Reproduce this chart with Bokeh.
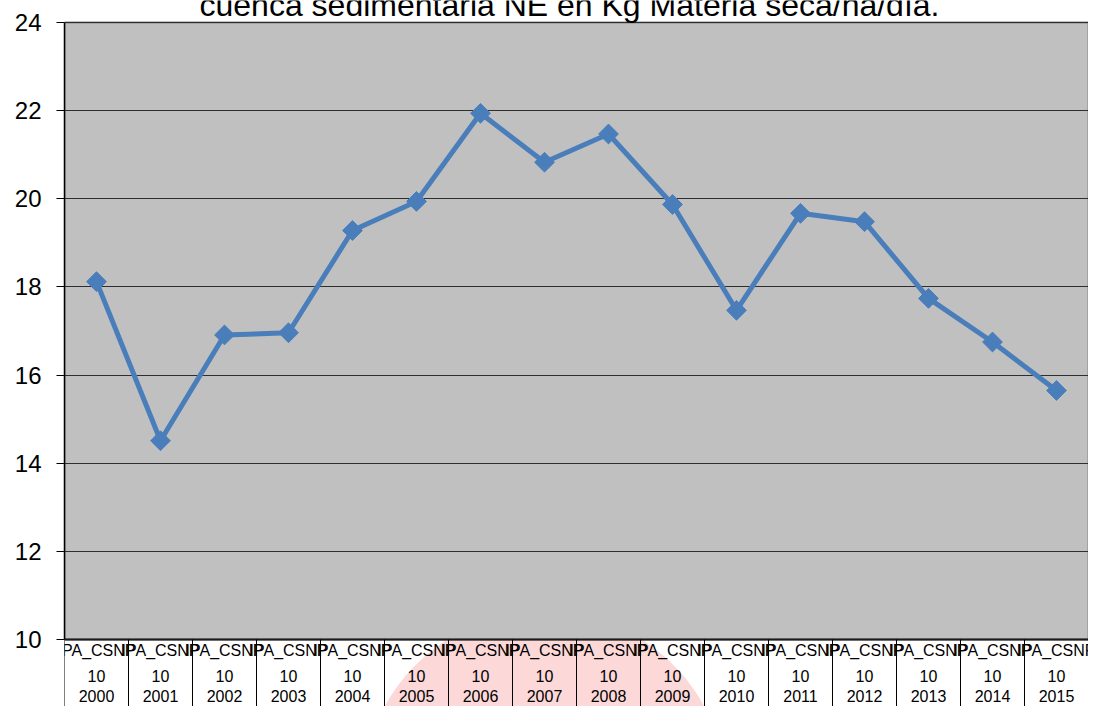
import numpy as np
from bokeh.plotting import figure
from bokeh.models import Range1d, FixedTicker, ColumnDataSource
from bokeh.core.properties import value
from bokeh.embed import file_html
from bokeh.resources import INLINE

# ---- data ----
series_codes = ["IPA_CSNP"] * 16
series_nums = ["10"] * 16
years = ["2000", "2001", "2002", "2003", "2004", "2005", "2006", "2007",
         "2008", "2009", "2010", "2011", "2012", "2013", "2014", "2015"]
values = [18.12, 14.51, 16.91, 16.96, 19.28, 19.94, 21.94, 20.83,
          21.47, 19.87, 17.47, 19.67, 19.48, 17.74, 16.75, 15.65]
y_ticks = [10, 12, 14, 16, 18, 20, 22, 24]
title_text = "cuenca sedimentaria NE en Kg Materia seca/ha/día."

FONT = "Liberation Sans"
BLUE = "#4a7ebb"

# ---- layout (pixels) ----
W, H = 1088, 706
LEFT = 64
PLOT_TOP, PLOT_BOTTOM = 22, 639
Y0, Y1 = y_ticks[0], y_ticks[-1]
ppu = (PLOT_BOTTOM - PLOT_TOP) / (Y1 - Y0)
y_start = Y0 - (H - PLOT_BOTTOM) / ppu
y_end = Y1 + PLOT_TOP / ppu


def y_at(px):
    return Y0 - (px - PLOT_BOTTOM) / ppu


n = len(years)
idx = list(range(n))
bounds = [i - 0.5 for i in range(n + 1)]
x_start, x_end = bounds[0], bounds[-1]
xppu = (W - LEFT) / (x_end - x_start)

p = figure(width=W, height=H, output_backend="svg", toolbar_location=None,
           x_range=Range1d(x_start, x_end), y_range=Range1d(y_start, y_end),
           min_border_left=LEFT, min_border_right=0, min_border_top=0,
           min_border_bottom=0, x_axis_type=None)
p.background_fill_color = "white"
p.border_fill_color = "white"
p.outline_line_color = None

# watermark (decorative, only below the plot area)
theta = np.linspace(0, 2 * np.pi, 240)
wm_cx, wm_cy = 7.0, y_at(793)
wm_rx, wm_ry = 182 / xppu, 182 / ppu
wm_x = wm_cx + wm_rx * np.cos(theta)
wm_y = np.minimum(wm_cy + wm_ry * np.sin(theta), Y0)
p.patch(list(wm_x), list(wm_y), fill_color="#fcd8d8", line_color=None, level="image")

# plot area
p.quad(left=[x_start], right=[x_end], bottom=[Y0], top=[Y1],
       fill_color="#c0c0c0", line_color="#868686", line_width=2, level="image")

# y axis
p.yaxis.ticker = FixedTicker(ticks=y_ticks)
p.yaxis.bounds = (Y0, Y1)
p.yaxis.major_tick_out = 8
p.yaxis.major_tick_in = 0
p.yaxis.minor_tick_line_color = None
p.yaxis.major_tick_line_color = "black"
p.yaxis.axis_line_color = "black"
p.yaxis.axis_line_width = 1.5
p.yaxis.major_label_standoff = 15
p.yaxis.major_label_text_font = FONT
p.yaxis.major_label_text_font_size = "24px"
p.yaxis.major_label_text_color = "black"

p.ygrid.ticker = FixedTicker(ticks=y_ticks)
p.ygrid.grid_line_color = "#2e2e2e"
p.ygrid.grid_line_width = 1
p.xgrid.visible = False

# bottom edge of plot area
p.segment(x0=[x_start], y0=[Y0], x1=[x_end], y1=[Y0], line_color="#1a1a1a", line_width=2)

# category cell separators
p.segment(x0=bounds, y0=[y_start] * (n + 1), x1=bounds, y1=[Y0] * (n + 1),
          line_color="black", line_width=1)

# series
src = ColumnDataSource(dict(x=idx, y=values))
p.line("x", "y", source=src, line_color=BLUE, line_width=5)
p.scatter("x", "y", source=src, marker="square", angle=np.pi / 4, size=14,
          fill_color=BLUE, line_color=BLUE)

# category labels (three rows)
for texts, px in ((series_codes, 650), (series_nums, 675), (years, 695)):
    p.text(x=idx, y=[y_at(px)] * n, text=texts, text_align="center",
           text_baseline="middle", text_font=value(FONT),
           text_font_size="16px", text_color="black")

# title (partially cut by the top edge)
p.text(x=[(569 - LEFT) / xppu + x_start], y=[y_at(4)], text=[title_text],
       text_align="center", text_baseline="middle", text_font=value(FONT),
       text_font_size="32px", text_color="black")

open("out.html", "w").write(file_html(p, INLINE))
